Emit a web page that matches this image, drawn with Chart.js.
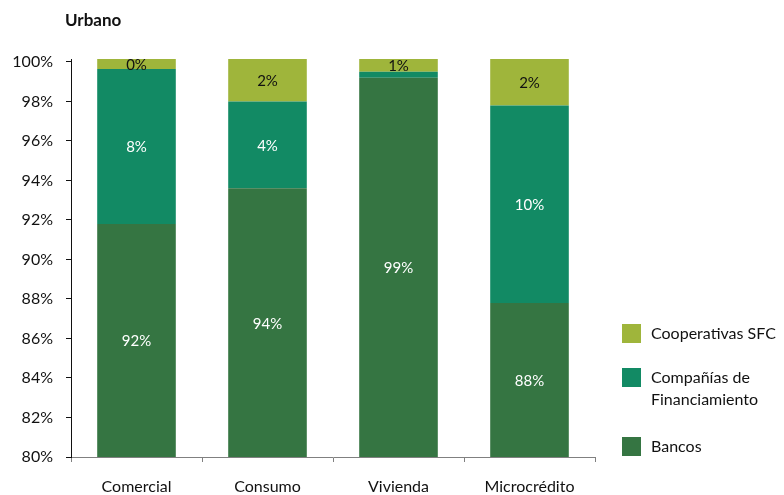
<!DOCTYPE html>
<html>
<head>
<meta charset="utf-8">
<script src="https://cdn.jsdelivr.net/npm/chart.js@4/dist/chart.umd.min.js"></script>
<style>
html,body{margin:0;padding:0;background:#fff;}
#wrap{width:784px;height:495px;position:relative;}
</style>
</head>
<body>
<div id="wrap"><canvas id="c" width="784" height="495"></canvas></div>
<script>
const title = "Urbano";
const categories = ["Comercial", "Consumo", "Vivienda", "Microcrédito"];
const seriesNames = ["Bancos", "Compañías de Financiamiento", "Cooperativas SFC"];
const legendLines = [["Bancos"], ["Compañías de", "Financiamiento"], ["Cooperativas SFC"]];
const bancos = [91.8, 93.6, 99.2, 87.8];
const companias = [7.85, 4.4, 0.3, 10.0];
const cooperativas = [0.5, 2.15, 0.65, 2.35];
const bancosLabels = ["92%", "94%", "99%", "88%"];
const companiasLabels = ["8%", "4%", "", "10%"];
const cooperativasLabels = ["0%", "2%", "1%", "2%"];
const yTicks = [80, 82, 84, 86, 88, 90, 92, 94, 96, 98, 100];
const colors = ["#357542", "#128a64", "#9fb53b"];
const labelColors = ["#ffffff", "#ffffff", "#111111"];

const FONT = "Lato, 'Open Sans', sans-serif";

const valueLabels = {
  id: 'valueLabels',
  afterDatasetsDraw(chart) {
    const ctx = chart.ctx;
    const area = chart.chartArea;
    const texts = [bancosLabels, companiasLabels, cooperativasLabels];
    ctx.save();
    ctx.font = "15px " + FONT;
    ctx.textAlign = "center";
    ctx.textBaseline = "middle";
    chart.data.datasets.forEach((ds, di) => {
      const meta = chart.getDatasetMeta(di);
      meta.data.forEach((bar, i) => {
        const t = texts[di][i];
        if (!t) return;
        let top = Math.min(bar.y, bar.base), bot = Math.max(bar.y, bar.base);
        top = Math.max(top, area.top);
        bot = Math.min(bot, area.bottom);
        ctx.fillStyle = labelColors[di];
        ctx.fillText(t, bar.x, (top + bot) / 2 + 1);
      });
    });
    ctx.restore();
  }
};

const extras = {
  id: 'extras',
  afterDraw(chart) {
    const ctx = chart.ctx;
    ctx.save();
    ctx.fillStyle = "#111";
    ctx.font = "bold 17px " + FONT;
    ctx.textAlign = "left";
    ctx.textBaseline = "middle";
    ctx.fillText(title, 65, 21);
    const ys = [446, 377, 333];
    ctx.font = "16px " + FONT;
    for (let i = 2; i >= 0; i--) {
      const y = ys[i];
      ctx.fillStyle = colors[i];
      ctx.fillRect(622, y - 9, 19, 19);
      ctx.fillStyle = "#111";
      legendLines[i].forEach((ln, k) => ctx.fillText(ln, 651, y + 1 + k * 22));
    }
    ctx.restore();
  }
};

new Chart(document.getElementById('c'), {
  type: 'bar',
  data: {
    labels: categories,
    datasets: [
      { label: seriesNames[0], data: bancos, backgroundColor: colors[0] },
      { label: seriesNames[1], data: companias, backgroundColor: colors[1] },
      { label: seriesNames[2], data: cooperativas, backgroundColor: colors[2] }
    ]
  },
  options: {
    responsive: false,
    animation: false,
    events: [],
    layout: { padding: { left: 0, right: 189, top: 59, bottom: 0 } },
    datasets: { bar: { barPercentage: 0.6, categoryPercentage: 1.0 } },
    plugins: { legend: { display: false }, title: { display: false }, tooltip: { enabled: false } },
    scales: {
      x: {
        stacked: true,
        grid: { display: true, drawOnChartArea: false, drawTicks: true, tickLength: 5, color: "#808080", offset: true },
        border: { display: true, color: "#808080", width: 1 },
        ticks: { color: "#111", font: { family: FONT, size: 16 }, padding: 15, maxRotation: 0 },
        afterFit(s) { s.height = 38; }
      },
      y: {
        stacked: true,
        min: 80,
        max: 100.15,
        afterBuildTicks(s) { s.ticks = yTicks.map(v => ({ value: v })); },
        grid: { display: true, drawOnChartArea: false, drawTicks: true, tickLength: 5, color: "#111" },
        border: { display: true, color: "#111", width: 1 },
        ticks: { color: "#111", font: { family: FONT, size: 16 }, padding: 13, callback: v => v + "%" },
        afterFit(s) { s.width = 71; }
      }
    }
  },
  plugins: [valueLabels, extras]
});
</script>
</body>
</html>
